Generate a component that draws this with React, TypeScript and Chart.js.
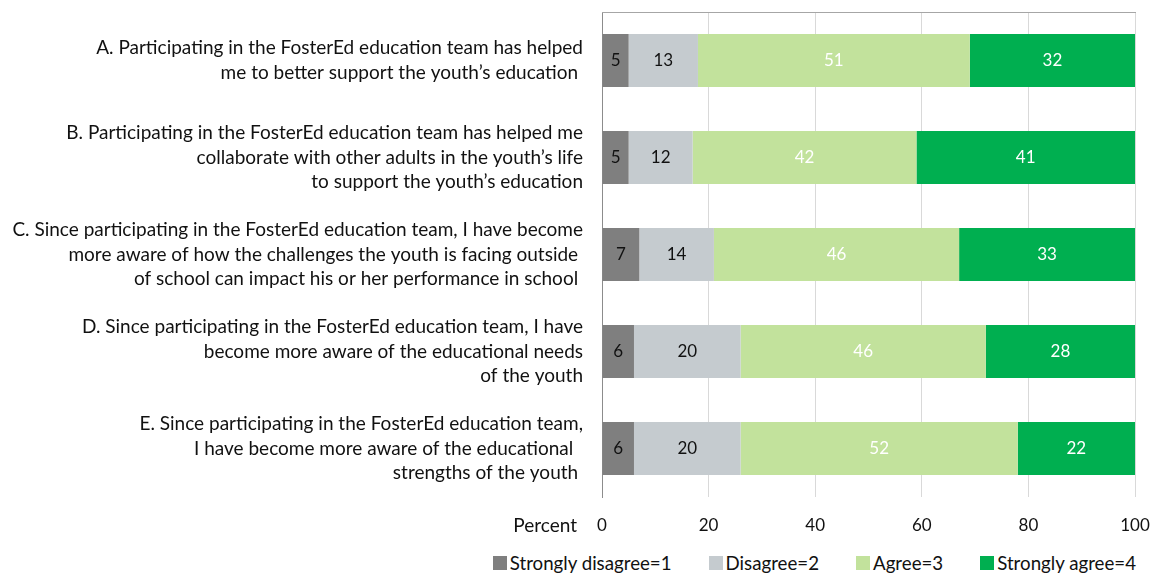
import { useEffect, useRef } from 'react';
import Chart, { ChartConfiguration, Plugin } from 'chart.js/auto';

const statements = [
  ['A. Participating in the FosterEd education team has helped', 'me to better support the youth\u2019s education '],
  ['B. Participating in the FosterEd education team has helped me', 'collaborate with other adults in the youth\u2019s life', 'to support the youth\u2019s education'],
  ['C. Since participating in the FosterEd education team, I have become', 'more aware of how the challenges the youth is facing outside ', 'of school can impact his or her performance in school '],
  ['D. Since participating in the FosterEd education team, I have', 'become more aware of the educational needs', 'of the youth'],
  ['E. Since participating in the FosterEd education team,', 'I have become more aware of the educational  ', 'strengths of the youth '],
];

const seriesNames = ['Strongly disagree=1', 'Disagree=2', 'Agree=3', 'Strongly agree=4'];
const stronglyDisagree = [5, 5, 7, 6, 6];
const disagree = [13, 12, 14, 20, 20];
const agree = [51, 42, 46, 46, 52];
const stronglyAgree = [32, 41, 33, 28, 22];
const xTicks = [0, 20, 40, 60, 80, 100];

const colors = ['#7f7f7f', '#c5cbcf', '#c2e29c', '#00af50'];
const valueColors = ['#111111', '#111111', '#ffffff', '#ffffff'];
const FONT = 'Lato, "Open Sans", sans-serif';
const LABEL_SIZE = 19;
const NUMBER_SIZE = 17;

// numbers in the middle of each segment + the "Percent" label + top border
const extras: Plugin<'bar'> = {
  id: 'extras',
  afterDatasetsDraw(chart) {
    const ctx = chart.ctx;
    const area = chart.chartArea;
    ctx.save();
    ctx.font = `${NUMBER_SIZE}px ${FONT}`;
    ctx.textAlign = 'center';
    ctx.textBaseline = 'middle';
    chart.data.datasets.forEach((ds, i) => {
      const meta = chart.getDatasetMeta(i);
      meta.data.forEach((bar, j) => {
        const p = bar.getCenterPoint();
        ctx.fillStyle = valueColors[i];
        ctx.fillText(String(ds.data[j]), Math.min(p.x, (area.right + (bar as any).base) / 2), p.y);
      });
    });

    ctx.strokeStyle = '#a6a6a6';
    ctx.lineWidth = 1;
    ctx.beginPath();
    ctx.moveTo(area.left, area.top + 0.5);
    ctx.lineTo(area.right + 1, area.top + 0.5);
    ctx.stroke();

    ctx.font = `${LABEL_SIZE}px ${FONT}`;
    ctx.fillStyle = '#111111';
    ctx.textAlign = 'right';
    ctx.fillText('Percent', area.left - 25, area.bottom + 29);
    ctx.restore();
  },
};

const App = () => {
  const chartRef = useRef<HTMLCanvasElement>(null);
  const chartInstance = useRef<Chart | null>(null);

  useEffect(() => {
    if (chartInstance.current) {
      chartInstance.current.destroy();
    }

    const seriesValues = [stronglyDisagree, disagree, agree, stronglyAgree];

    const config: ChartConfiguration<'bar', number[], string[]> = {
      type: 'bar',
      data: {
        labels: statements,
        datasets: seriesNames.map((name, i) => ({
          label: name,
          data: seriesValues[i],
          backgroundColor: colors[i],
          borderWidth: 0,
          categoryPercentage: 1,
          barPercentage: 0.545,
        })),
      },
      options: {
        indexAxis: 'y',
        animation: false,
        responsive: true,
        maintainAspectRatio: false,
        layout: { padding: { top: 4, right: 15, left: 0, bottom: 0 } },
        plugins: {
          legend: { display: false },
          tooltip: { enabled: false },
        },
        scales: {
          x: {
            stacked: true,
            min: 0,
            max: 100,
            afterBuildTicks: (scale) => {
              scale.ticks = xTicks.map((v) => ({ value: v }));
            },
            afterFit: (scale: any) => {
              scale.height = 43;
              scale.paddingLeft = 0;
              scale.paddingRight = 0;
            },
            grid: { color: '#d9d9d9', drawTicks: false },
            border: { display: false },
            ticks: {
              padding: 18,
              color: '#111111',
              font: { family: FONT, size: NUMBER_SIZE },
            },
          },
          y: {
            stacked: true,
            afterFit: (scale: any) => {
              scale.width = 594;
              scale.paddingTop = 0;
              scale.paddingBottom = 0;
            },
            grid: { display: false, drawTicks: false },
            border: { display: true, color: '#8c8c8c', width: 1 },
            ticks: {
              padding: 19,
              color: '#111111',
              font: { family: FONT, size: LABEL_SIZE, lineHeight: 1.29 },
            },
          },
        },
      },
      plugins: [extras],
    };

    if (chartRef.current) {
      const ctx = chartRef.current.getContext('2d');
      if (ctx) {
        chartInstance.current = new Chart(ctx, config);
      }
    }

    return () => {
      if (chartInstance.current) {
        chartInstance.current.destroy();
      }
    };
  }, []);

  return (
    <div style={{ position: 'relative', width: 1142, height: 567, fontFamily: FONT }}>
      <div style={{ position: 'relative', width: 1142, height: 532 }}>
        <canvas ref={chartRef}></canvas>
      </div>
      <div
        style={{
          position: 'absolute',
          top: 545,
          right: 14,
          height: 20,
          display: 'flex',
          alignItems: 'center',
          fontSize: 18.7,
          color: '#111111',
          whiteSpace: 'nowrap',
        }}
      >
        {seriesNames.map((name, i) => (
          <div key={name} style={{ display: 'flex', alignItems: 'center', marginLeft: i === 0 ? 0 : 37 }}>
            <span style={{ width: 14, height: 14, backgroundColor: colors[i], marginRight: 3, display: 'inline-block' }}></span>
            <span>{name}</span>
          </div>
        ))}
      </div>
    </div>
  );
};

export default App;
